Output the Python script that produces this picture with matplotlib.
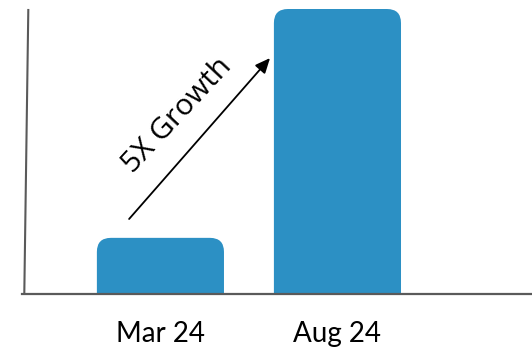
import matplotlib
matplotlib.use("Agg")
import matplotlib.pyplot as plt
from matplotlib.patches import FancyBboxPatch
from matplotlib.lines import Line2D

categories = ["Mar 24", "Aug 24"]
values = [1.0, 5.15]
annotation_text = "5X Growth"

BAR_COLOR = "#2C90C4"
W, H, DPI = 532, 348, 100

fig = plt.figure(figsize=(W / DPI, H / DPI), dpi=DPI)
# axes in pixel terms: x from 22 to 532, y from 293 (bottom) to 9 (top)
ax = fig.add_axes([22 / W, 1 - 293 / H, (532 - 22) / W, (293 - 9) / H])
ax.set_xlim(-0.782, 2.099)
ax.set_ylim(0, max(values))
for s in ax.spines.values():
    s.set_visible(False)
ax.set_yticks([])

bar_w = 0.718
px_x = 1 / 177.0
px_y = max(values) / 284.0
aspect = px_y / px_x
radius = 14 * px_x
for i, v in enumerate(values):
    p = FancyBboxPatch((i - bar_w / 2, -1.0), bar_w, v + 1.0,
                       boxstyle=f"round,pad=0,rounding_size={radius}",
                       mutation_aspect=aspect, facecolor=BAR_COLOR,
                       edgecolor="none", clip_on=True)
    ax.add_patch(p)

ax.set_xticks(range(len(categories)))
ax.set_xticklabels(categories, fontsize=20, family=["Lato", "DejaVu Sans"])
ax.tick_params(axis="x", length=0, pad=20)

# axis lines
fig.add_artist(Line2D([22 / W, 1.0], [1 - 293.5 / H, 1 - 293.5 / H],
                      color="#5a5a5a", lw=1.6, transform=fig.transFigure))
fig.add_artist(Line2D([28.3 / W, 24.3 / W], [1 - 10 / H, 1 - 293.5 / H],
                      color="#5a5a5a", lw=1.5, transform=fig.transFigure))

ax.annotate("", xy=(0.619, 4.26), xytext=(-0.177, 1.342),
            arrowprops=dict(arrowstyle="-|>,head_length=0.9,head_width=0.4",
                            color="black", lw=1.3, shrinkA=0, shrinkB=0))
ax.text(0.098, 3.22, annotation_text, rotation=47, ha="center", va="center",
        fontsize=21.5, family=["Open Sans", "DejaVu Sans"], rotation_mode="anchor")

fig.savefig("out.png", dpi=DPI)
